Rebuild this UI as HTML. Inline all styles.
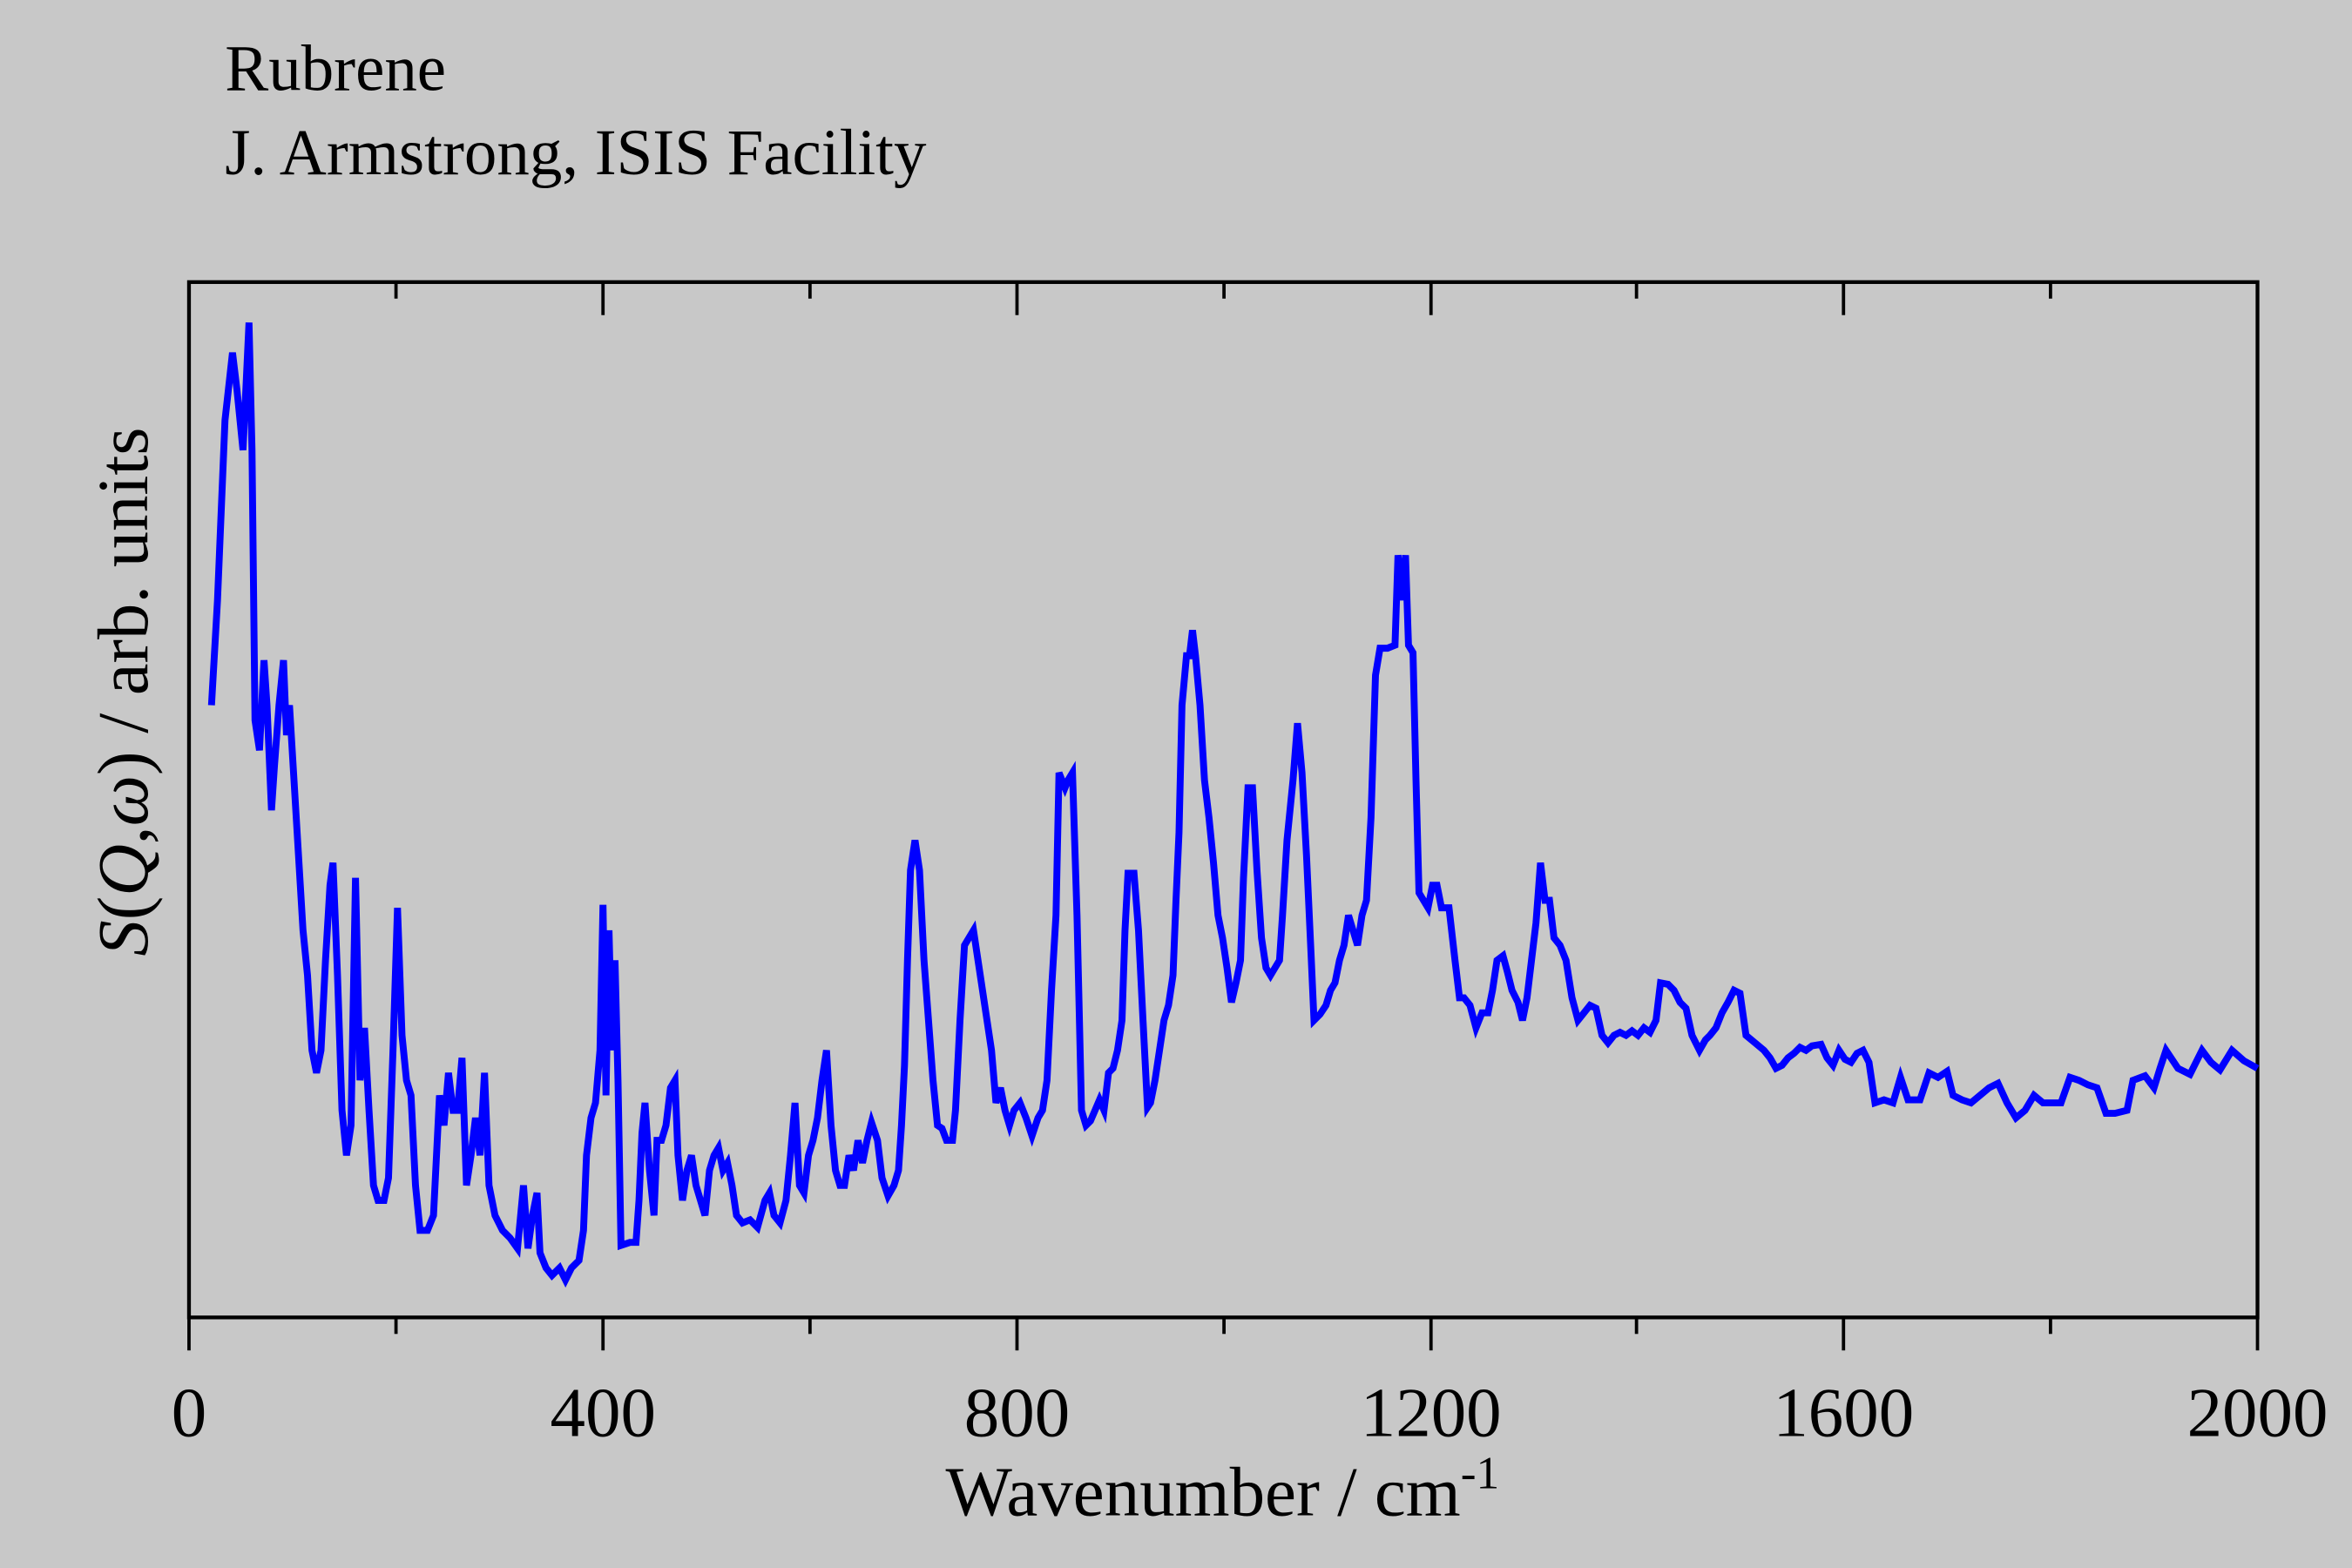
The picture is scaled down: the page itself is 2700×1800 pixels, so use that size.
<!DOCTYPE html>
<html><head><meta charset="utf-8"><style>
html,body{margin:0;padding:0;background:#c8c8c8;}
svg{display:block;}
text{font-family:"Liberation Serif",serif;fill:#000;}
</style></head><body>
<svg width="2700" height="1800" viewBox="0 0 1568 1045" preserveAspectRatio="none" xmlns="http://www.w3.org/2000/svg">
<rect x="0" y="0" width="1568" height="1045" fill="#c8c8c8"/>
<text x="150" y="60" font-size="43.5">Rubrene</text>
<text x="150" y="116" font-size="43.5">J. Armstrong, ISIS Facility</text>
<rect x="126" y="188" width="1379" height="690" fill="none" stroke="#000" stroke-width="2.5"/>
<g stroke="#000" stroke-width="2.2">
<line x1="126" y1="878" x2="126" y2="900"/><line x1="402" y1="878" x2="402" y2="900"/><line x1="678" y1="878" x2="678" y2="900"/><line x1="954" y1="878" x2="954" y2="900"/><line x1="1229" y1="878" x2="1229" y2="900"/><line x1="1505" y1="878" x2="1505" y2="900"/>
<line x1="264" y1="878" x2="264" y2="889"/><line x1="540" y1="878" x2="540" y2="889"/><line x1="816" y1="878" x2="816" y2="889"/><line x1="1091" y1="878" x2="1091" y2="889"/><line x1="1367" y1="878" x2="1367" y2="889"/>
<line x1="402" y1="188" x2="402" y2="210"/><line x1="678" y1="188" x2="678" y2="210"/><line x1="954" y1="188" x2="954" y2="210"/><line x1="1229" y1="188" x2="1229" y2="210"/>
<line x1="264" y1="188" x2="264" y2="199"/><line x1="540" y1="188" x2="540" y2="199"/><line x1="816" y1="188" x2="816" y2="199"/><line x1="1091" y1="188" x2="1091" y2="199"/><line x1="1367" y1="188" x2="1367" y2="199"/>
</g>
<g font-size="47" text-anchor="middle">
<text x="126" y="957">0</text><text x="402" y="957">400</text><text x="678" y="957">800</text><text x="954" y="957">1200</text><text x="1229" y="957">1600</text><text x="1505" y="957">2000</text>
</g>
<text x="815" y="1010" font-size="47" text-anchor="middle">Wavenumber / cm<tspan dy="-18" font-size="31">-1</tspan></text>
<text transform="translate(98,461) rotate(-90)" font-size="48" text-anchor="middle"><tspan font-style="italic">S</tspan>(<tspan font-style="italic">Q</tspan>,<tspan font-style="italic">ω</tspan>) / arb. units</text>
<polyline fill="none" stroke="#0000ff" stroke-width="4.6" stroke-linejoin="miter" points="141,470 145,400 150,280 155,235 158,260 162,300 166,215 168,300 170,480 173,500 176,440 178,470 181,540 183,510 186,470 189,440 191,490 193,470 196,520 199,570 202,620 205,650 208,700 211,715 214,700 217,640 220,590 222,575 225,650 228,740 231,770 234,750 237,585 240,720 243,685 246,740 249,790 252,800 256,800 259,785 262,700 265,605 268,690 271,720 274,730 277,790 280,820 285,820 289,810 293,730 296,750 299,715 302,740 305,740 308,705 311,790 314,770 317,745 320,770 323,715 326,790 330,810 335,820 340,825 345,832 349,790 352,832 355,810 358,795 360,835 364,845 368,850 373,845 377,853 381,845 386,840 389,820 391,770 394,745 397,735 400,700 402,603 404,730 406,620 408,700 410,640 412,720 414,830 420,828 424,828 426,800 428,755 430,735 433,780 436,810 438,760 441,760 444,750 447,725 450,720 452,770 455,800 458,780 461,770 464,790 467,800 470,810 473,780 476,770 479,765 482,780 485,775 488,790 491,810 495,815 500,813 505,818 510,800 513,795 516,810 520,815 524,800 527,770 530,735 533,790 536,795 539,770 542,760 545,745 548,720 551,700 554,750 557,780 560,790 563,790 566,770 569,780 572,760 575,775 578,760 581,748 585,760 588,785 592,797 596,790 599,780 601,750 603,710 605,640 607,580 610,560 613,580 616,640 619,680 622,720 625,750 628,752 631,760 635,760 637,740 640,680 643,630 646,625 649,620 652,640 655,660 658,680 661,700 664,735 667,725 670,740 673,750 676,740 680,735 684,745 688,757 692,745 695,740 698,720 701,660 704,610 706,515 710,525 712,520 715,515 718,610 721,740 724,750 727,747 730,740 733,733 736,740 739,715 742,712 745,700 748,680 750,620 752,582 756,582 759,620 762,680 765,738 767,735 770,720 773,700 776,680 779,670 782,650 784,600 786,555 788,470 791,437 793,437 795,420 797,437 800,470 803,520 806,545 809,575 812,610 815,625 818,645 821,668 824,655 827,640 829,585 832,525 835,525 838,580 841,625 844,645 847,650 850,645 853,640 855,610 858,560 862,520 865,482 868,515 871,570 874,635 876,680 880,676 884,670 887,660 890,655 893,640 896,630 899,610 902,620 905,630 908,610 911,600 914,545 917,450 920,432 925,432 930,430 932,370 935,400 937,370 939,430 942,435 944,520 946,595 949,600 952,605 955,590 958,590 961,605 966,605 970,640 973,665 976,665 980,670 984,685 988,675 992,675 995,660 998,640 1002,637 1005,648 1008,660 1012,668 1015,680 1018,665 1021,640 1024,615 1027,575 1030,600 1033,600 1036,625 1040,630 1044,640 1048,665 1052,680 1056,675 1060,670 1064,672 1068,690 1072,695 1076,690 1080,688 1084,690 1088,687 1092,690 1096,685 1100,688 1104,680 1107,655 1112,656 1116,660 1120,668 1124,672 1128,690 1133,700 1137,693 1140,690 1144,685 1148,675 1152,668 1156,660 1160,662 1164,690 1170,695 1176,700 1180,705 1184,712 1188,710 1192,705 1196,702 1200,698 1204,700 1208,697 1214,696 1218,705 1222,710 1226,700 1230,706 1234,708 1238,702 1242,700 1246,708 1250,735 1256,733 1262,735 1267,718 1272,733 1280,733 1286,715 1292,718 1298,714 1302,730 1308,733 1314,735 1320,730 1326,725 1332,722 1338,735 1344,745 1350,740 1356,730 1362,735 1368,735 1374,735 1380,718 1386,720 1392,723 1398,725 1404,742 1410,742 1418,740 1422,720 1430,717 1436,725 1440,712 1444,700 1452,712 1460,716 1468,700 1474,708 1480,713 1488,700 1496,707 1505,712"/>
</svg>
</body></html>
